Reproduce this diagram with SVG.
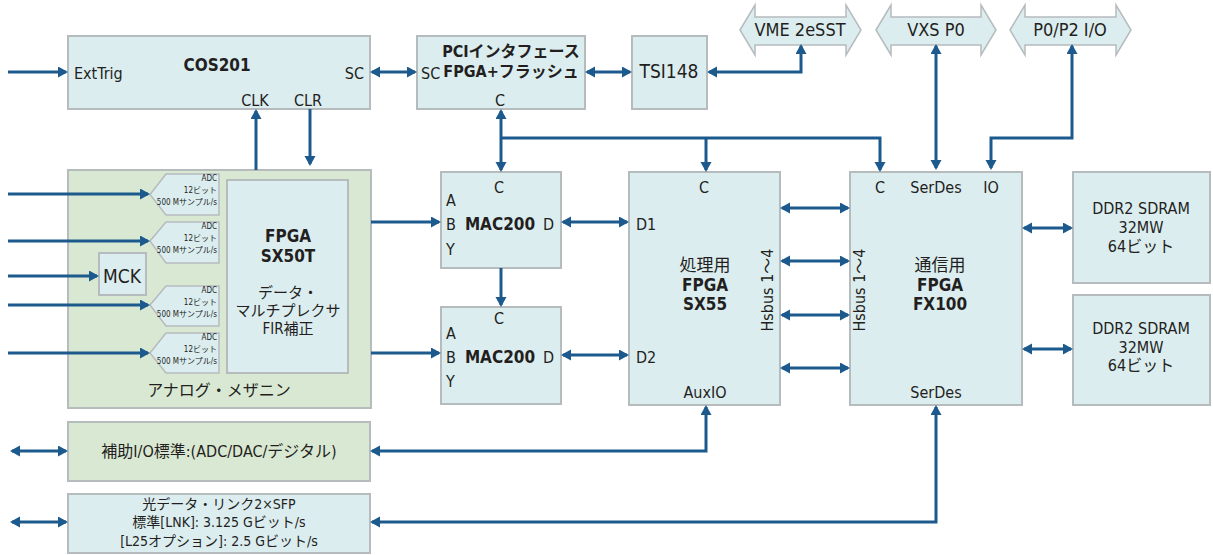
<svg xmlns="http://www.w3.org/2000/svg" width="1213" height="555" viewBox="0 0 1213 555">
<defs>
<style>
.b{fill:#dcedf0;stroke:#b6bbbe;stroke-width:2}
.g{fill:#d9e8d3;stroke:#b6bbbe;stroke-width:2}
text{font-family:"Liberation Sans Narrow","DejaVu Sans Condensed","Liberation Sans","Noto Sans CJK JP",sans-serif;fill:#231f20;font-size:16px}
.c{text-anchor:middle}
.r{text-anchor:end}
.bd{font-weight:bold;font-size:17px}
.s{font-size:8px;text-anchor:end}
.w{fill:none;stroke:#1c5a8d;stroke-width:3}
</style>
<marker id="a" markerUnits="userSpaceOnUse" markerWidth="12" markerHeight="12" refX="8" refY="5.5" orient="auto-start-reverse">
<path d="M0,0 L10,5.5 L0,11 z" fill="#1c5a8d"/>
</marker>
</defs>

<g id="cos201">
<rect class="b" x="68" y="36" width="302" height="73"/>
<text class="bd c" x="217" y="71">COS201</text>
<text x="74" y="79">ExtTrig</text>
<text class="r" x="364" y="79">SC</text>
<text class="c" x="255" y="106">CLK</text>
<text class="c" x="308" y="106">CLR</text>
</g>

<g id="pci">
<rect class="b" x="417" y="36" width="168" height="73"/>
<text x="421" y="79">SC</text>
<text class="bd c" x="511" y="57" style="font-size:16px">PCIインタフェース</text>
<text class="bd c" x="511" y="77" style="font-size:16px">FPGA+フラッシュ</text>
<text class="c" x="500" y="106">C</text>
</g>

<g id="tsi148">
<rect class="b" x="632" y="36" width="75" height="73"/>
<text class="c" x="669" y="78" style="font-size:19px">TSI148</text>
</g>

<g id="vme">
<path class="b" d="M740,30 L755,5 V17 H846 V5 L861,30 L846,55 V45 H755 V55 Z" style="stroke-width:1.5"/>
<text class="c" x="800" y="36" style="font-size:18px">VME 2eSST</text>
</g>
<g id="vxs">
<path class="b" d="M876,30 L891,5 V17 H981 V5 L996,30 L981,55 V45 H891 V55 Z" style="stroke-width:1.5"/>
<text class="c" x="936" y="36" style="font-size:18px">VXS P0</text>
</g>
<g id="p0p2">
<path class="b" d="M1010,30 L1025,5 V17 H1116 V5 L1131,30 L1116,55 V45 H1025 V55 Z" style="stroke-width:1.5"/>
<text class="c" x="1070" y="36" style="font-size:18px">P0/P2 I/O</text>
</g>

<g id="analog-mezzanine">
<rect class="g" x="68" y="170" width="303" height="238"/>
<text class="c" x="219" y="396">アナログ・メザニン</text>
<g id="mck">
<rect class="b" x="99" y="253" width="47" height="42"/>
<text class="c" x="122" y="283" style="font-size:19px">MCK</text>
</g>
<g id="adc1">
<path class="b" d="M166,174 H219 V215 H166 L150,194.5 Z" style="stroke-width:1.5"/>
<text class="s" x="217" y="181">ADC</text>
<text class="s" x="217" y="193">12ビット</text>
<text class="s" x="217" y="205">500 Mサンプル/s</text>
</g>
<g id="adc2">
<path class="b" d="M166,222 H219 V263 H166 L150,241 Z" style="stroke-width:1.5"/>
<text class="s" x="217" y="229">ADC</text>
<text class="s" x="217" y="241">12ビット</text>
<text class="s" x="217" y="253">500 Mサンプル/s</text>
</g>
<g id="adc3">
<path class="b" d="M166,286 H219 V326 H166 L150,305 Z" style="stroke-width:1.5"/>
<text class="s" x="217" y="293">ADC</text>
<text class="s" x="217" y="305">12ビット</text>
<text class="s" x="217" y="317">500 Mサンプル/s</text>
</g>
<g id="adc4">
<path class="b" d="M166,333 H219 V373 H166 L150,353 Z" style="stroke-width:1.5"/>
<text class="s" x="217" y="340">ADC</text>
<text class="s" x="217" y="352">12ビット</text>
<text class="s" x="217" y="364">500 Mサンプル/s</text>
</g>
<g id="fpga-sx50t">
<rect class="b" x="227" y="180" width="121" height="193"/>
<text class="bd c" x="288" y="242">FPGA</text>
<text class="bd c" x="288" y="262">SX50T</text>
<text class="c" x="288" y="298" style="font-size:15px">データ・</text>
<text class="c" x="288" y="316" style="font-size:15px">マルチプレクサ</text>
<text class="c" x="288" y="334" style="font-size:15px">FIR補正</text>
</g>
</g>

<g id="mac200-1">
<rect class="b" x="441" y="172" width="120" height="96"/>
<text class="c" x="499" y="193">C</text>
<text x="446" y="206">A</text>
<text x="446" y="230">B</text>
<text x="446" y="255">Y</text>
<text class="bd c" x="500" y="230">MAC200</text>
<text x="543" y="230">D</text>
</g>
<g id="mac200-2">
<rect class="b" x="441" y="307" width="120" height="97"/>
<text class="c" x="499" y="324">C</text>
<text x="446" y="339">A</text>
<text x="446" y="363">B</text>
<text x="446" y="387">Y</text>
<text class="bd c" x="500" y="363">MAC200</text>
<text x="543" y="363">D</text>
</g>

<g id="fpga-sx55">
<rect class="b" x="629" y="172" width="151" height="233"/>
<text class="c" x="704" y="193">C</text>
<text x="636" y="230">D1</text>
<text x="636" y="363">D2</text>
<text class="c" x="705" y="271" style="font-size:17px">処理用</text>
<text class="bd c" x="705" y="291">FPGA</text>
<text class="bd c" x="705" y="310">SX55</text>
<text class="c" x="705" y="398">AuxIO</text>
<text class="c" transform="translate(773,290) rotate(-90)">Hsbus 1〜4</text>
</g>

<g id="fpga-fx100">
<rect class="b" x="850" y="172" width="172" height="233"/>
<text class="c" x="880" y="193">C</text>
<text class="c" x="936" y="193">SerDes</text>
<text class="c" x="991" y="193">IO</text>
<text class="c" x="940" y="271" style="font-size:17px">通信用</text>
<text class="bd c" x="940" y="291">FPGA</text>
<text class="bd c" x="940" y="310">FX100</text>
<text class="c" x="936" y="398">SerDes</text>
<text class="c" transform="translate(865,290) rotate(-90)">Hsbus 1〜4</text>
</g>

<g id="ddr2-1">
<rect class="b" x="1073" y="172" width="137" height="111"/>
<text class="c" x="1141" y="214">DDR2 SDRAM</text>
<text class="c" x="1141" y="233">32MW</text>
<text class="c" x="1141" y="252">64ビット</text>
</g>
<g id="ddr2-2">
<rect class="b" x="1073" y="295" width="137" height="110"/>
<text class="c" x="1141" y="334">DDR2 SDRAM</text>
<text class="c" x="1141" y="353">32MW</text>
<text class="c" x="1141" y="371">64ビット</text>
</g>

<g id="aux-io">
<rect class="g" x="68" y="422" width="302" height="59"/>
<text class="c" x="219" y="457">補助I/O標準:(ADC/DAC/デジタル)</text>
</g>

<g id="optical-link">
<rect class="b" x="68" y="494" width="302" height="59"/>
<text class="c" x="219" y="509" style="font-size:14px">光データ・リンク2×SFP</text>
<text class="c" x="219" y="527" style="font-size:14px">標準[LNK]: 3.125 Gビット/s</text>
<text class="c" x="219" y="546" style="font-size:14px">[L25オプション]: 2.5 Gビット/s</text>
</g>

<g id="connectors">
<path class="w" d="M8,72 H66" marker-end="url(#a)"/>
<path class="w" d="M372,72 H415" marker-start="url(#a)" marker-end="url(#a)"/>
<path class="w" d="M587,72 H630" marker-start="url(#a)" marker-end="url(#a)"/>
<path class="w" d="M709,72 H801 V46" marker-start="url(#a)" marker-end="url(#a)"/>
<path class="w" d="M936,46 V168" marker-start="url(#a)" marker-end="url(#a)"/>
<path class="w" d="M1072,46 V138 H991 V168" marker-start="url(#a)" marker-end="url(#a)"/>
<path class="w" d="M501,111 V170" marker-start="url(#a)" marker-end="url(#a)"/>
<path class="w" d="M501,138 H880 V170" marker-end="url(#a)"/>
<path class="w" d="M706,138 V170" marker-end="url(#a)"/>
<path class="w" d="M256,170 V111" marker-end="url(#a)"/>
<path class="w" d="M310,109 V164" marker-end="url(#a)"/>
<path class="w" d="M8,194 H148" marker-end="url(#a)"/>
<path class="w" d="M8,241 H148" marker-end="url(#a)"/>
<path class="w" d="M8,276 H97" marker-end="url(#a)"/>
<path class="w" d="M8,305 H148" marker-end="url(#a)"/>
<path class="w" d="M8,353 H148" marker-end="url(#a)"/>
<path class="w" d="M371,222 H439" marker-end="url(#a)"/>
<path class="w" d="M371,353 H439" marker-end="url(#a)"/>
<path class="w" d="M501,268 V305" marker-end="url(#a)"/>
<path class="w" d="M563,222 H627" marker-start="url(#a)" marker-end="url(#a)"/>
<path class="w" d="M563,355 H627" marker-start="url(#a)" marker-end="url(#a)"/>
<path class="w" d="M782,208 H848" marker-start="url(#a)" marker-end="url(#a)"/>
<path class="w" d="M782,261 H848" marker-start="url(#a)" marker-end="url(#a)"/>
<path class="w" d="M782,315 H848" marker-start="url(#a)" marker-end="url(#a)"/>
<path class="w" d="M782,368 H848" marker-start="url(#a)" marker-end="url(#a)"/>
<path class="w" d="M1024,228 H1071" marker-start="url(#a)" marker-end="url(#a)"/>
<path class="w" d="M1024,349 H1071" marker-start="url(#a)" marker-end="url(#a)"/>
<path class="w" d="M706,407 V451 H372" marker-start="url(#a)" marker-end="url(#a)"/>
<path class="w" d="M936,407 V522 H372" marker-start="url(#a)" marker-end="url(#a)"/>
<path class="w" d="M12,451 H66" marker-start="url(#a)" marker-end="url(#a)"/>
<path class="w" d="M12,522 H66" marker-start="url(#a)" marker-end="url(#a)"/>
</g>
</svg>
